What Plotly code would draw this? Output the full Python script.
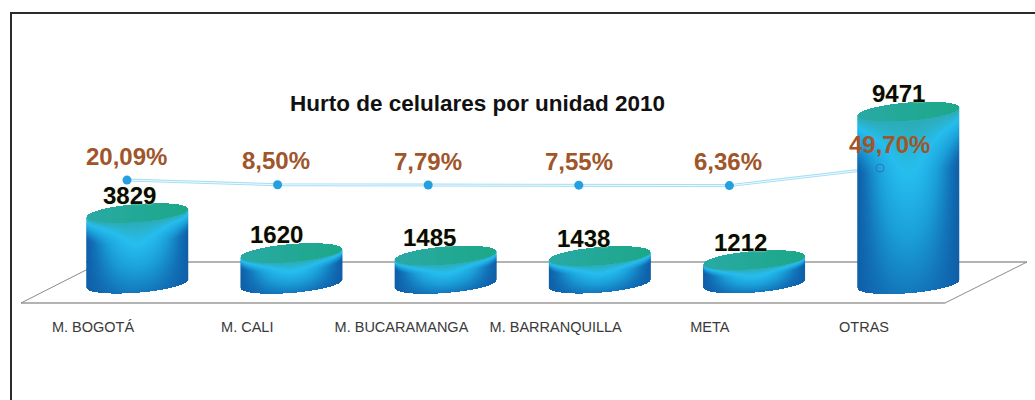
import numpy as np
import plotly.graph_objects as go

categories = ["M. BOGOTÁ", "M. CALI", "M. BUCARAMANGA", "M. BARRANQUILLA", "META", "OTRAS"]
units = [3829, 1620, 1485, 1438, 1212, 9471]
percents = [20.09, 8.50, 7.79, 7.55, 6.36, 49.70]
title_text = "Hurto de celulares por unidad 2010"

# label nudges in pixels
unit_xshift = [-8, -15, -16, -16, -13, -10]
pct_xshift = [-1, -2, 0, 0, -1, 9]

W, H = 1035, 400
# axis calibration: pixel = a + b * value
BAR_X0, BAR_DX = 137.0, 154.2
LINE_X0, LINE_DX = 127.0, 150.6
BAR_Y0, BAR_DY = 282.0, 0.018
PCT_Y0, PCT_DY = 188.2, 0.405
BASE_VALUE = -100

HALF_W = 50.5  # px
CAP_H = 9.0
TILT = 4.0

colorscale = [
    [0.0, "#0d58a2"],
    [0.18, "#1272b8"],
    [0.40, "#1a9ed8"],
    [0.62, "#26bdee"],
    [0.80, "#2da9ad"],
    [1.0, "#1aa884"],
]


def cylinder_shading(index, value):
    # shading is worked out on a half pixel grid, then placed through the axes
    px_x = np.arange(-HALF_W, HALF_W + 0.25, 0.5)
    cy_top = BAR_Y0 - BAR_DY * value
    cy_base = BAR_Y0 - BAR_DY * BASE_VALUE
    px_y = np.arange(cy_top - CAP_H - TILT - 1, cy_base + CAP_H + TILT + 1, 0.5)
    xx, yy = np.meshgrid(px_x, px_y)
    u = xx / HALF_W
    arc = CAP_H * np.sqrt(np.clip(1 - u**2, 0, 1))
    cap_up = cy_top - TILT * u - arc
    cap_low = cy_top - TILT * u + arc
    bottom = cy_base - TILT * u + arc

    t = (yy - cap_low) / np.maximum(bottom - cap_low, 1)
    side = np.clip(1 - u**2, 0, 1) ** 1.2
    vert = np.where(t < 0.32, 1.0, 1.0 - 0.72 * (t - 0.32) / 0.68)
    s = 0.05 + 0.57 * side * vert
    # body turns teal toward the top face
    w = np.clip((0.32 - t) / 0.32, 0, 1) ** 1.2
    s = s * (1 - w) + 0.78 * w
    # top face
    cap_s = 0.84 + 0.14 * (u + 1) / 2
    s = np.where(yy < cap_low, cap_s, s)
    s = np.where((yy < cap_up) | (yy > bottom), np.nan, s)

    x = index + px_x / BAR_DX
    y = (BAR_Y0 - px_y) / BAR_DY
    return x, y, s


def fx(px):
    return px / W


def fy(px):
    return 1 - px / H


fig = go.Figure()

idx = list(range(len(categories)))

# line sits on the lower subplot so that it passes behind the last cylinder
fig.add_trace(go.Scatter(x=idx, y=percents, mode="lines", xaxis="x", yaxis="y",
                         line=dict(color="#a6def5", width=3), hoverinfo="skip"))
fig.add_trace(go.Scatter(x=idx, y=percents, mode="lines", xaxis="x", yaxis="y",
                         line=dict(color="#eef9fd", width=1), hoverinfo="skip"))
fig.add_trace(go.Scatter(x=idx[:-1], y=percents[:-1], mode="markers", xaxis="x", yaxis="y",
                         marker=dict(color="#259fdf", size=9), hoverinfo="skip"))

for i, v in enumerate(units):
    x, y, s = cylinder_shading(i, v)
    fig.add_trace(go.Heatmap(x=x, y=y, z=s, xaxis="x2", yaxis="y2", coloraxis="coloraxis",
                             hoverinfo="skip"))

# the point on OTRAS only shows as a faint ring through the cylinder
fig.add_trace(go.Scatter(x=[(LINE_X0 + LINE_DX * idx[-1] - BAR_X0) / BAR_DX],
                         y=[(BAR_Y0 - (PCT_Y0 - PCT_DY * percents[-1])) / BAR_DY],
                         mode="markers", xaxis="x2", yaxis="y2",
                         marker=dict(color="rgba(0,0,0,0)", size=8,
                                     line=dict(color="rgba(60,90,170,0.7)", width=1)),
                         hoverinfo="skip"))

annotations = []
for i, v in enumerate(units):
    annotations.append(dict(x=i, y=v, xref="x2", yref="y2", text=str(v), showarrow=False,
                            xshift=unit_xshift[i], yshift=18, xanchor="center", yanchor="middle",
                            font=dict(family="Liberation Sans", size=24, color="#0a0a0a",
                                      weight="bold", shadow="0 0 2px #e8eeb0")))
for i, p in enumerate(percents):
    label = f"{p:.2f}".replace(".", ",") + "%"
    annotations.append(dict(x=i, y=p, xref="x", yref="y", text=label, showarrow=False,
                            xshift=pct_xshift[i], yshift=24, xanchor="center", yanchor="middle",
                            font=dict(family="Liberation Sans", size=24, color="#a0552a",
                                      weight="bold")))
annotations.append(dict(x=fx(477), y=fy(103), xref="paper", yref="paper", text=title_text,
                        showarrow=False, xanchor="center", yanchor="middle",
                        font=dict(family="Liberation Sans", size=22.5, color="#111111",
                                  weight="bold")))

grey = dict(color="#9a9a9a", width=1.6)
thin = dict(color="#8a8a8a", width=1)
shapes = [
    dict(type="line", xref="paper", yref="paper", x0=fx(86), y0=fy(262), x1=fx(1027), y1=fy(262),
         line=grey, layer="below"),
    dict(type="line", xref="paper", yref="paper", x0=fx(21), y0=fy(303), x1=fx(945), y1=fy(303),
         line=grey, layer="below"),
    dict(type="line", xref="paper", yref="paper", x0=fx(21), y0=fy(303), x1=fx(90), y1=fy(268),
         line=thin, layer="below"),
    dict(type="line", xref="paper", yref="paper", x0=fx(945), y0=fy(303), x1=fx(1027), y1=fy(262),
         line=thin, layer="below"),
    # picture frame, runs off the bottom and the right
    dict(type="path", xref="paper", yref="paper",
         path=f"M {fx(11)} {fy(410)} L {fx(11)} {fy(13)} L {fx(1045)} {fy(13)}",
         line=dict(color="#2b2b2b", width=2), layer="above"),
]

fig.update_layout(
    width=W,
    height=H,
    margin=dict(l=0, r=0, t=0, b=0),
    paper_bgcolor="white",
    plot_bgcolor="rgba(0,0,0,0)",
    showlegend=False,
    annotations=annotations,
    shapes=shapes,
    coloraxis=dict(colorscale=colorscale, cmin=0, cmax=1, showscale=False),
    xaxis=dict(range=[-LINE_X0 / LINE_DX, (W - LINE_X0) / LINE_DX], visible=False, fixedrange=True),
    yaxis=dict(range=[(PCT_Y0 - H) / PCT_DY, PCT_Y0 / PCT_DY], visible=False, fixedrange=True),
    xaxis2=dict(
        range=[-BAR_X0 / BAR_DX, (W - BAR_X0) / BAR_DX],
        overlaying="x",
        anchor="free",
        position=fy(316),
        side="bottom",
        tickmode="array",
        tickvals=[i - 0.285 for i in idx],
        ticktext=categories,
        ticks="",
        showline=False,
        showgrid=False,
        zeroline=False,
        tickangle=0,
        tickfont=dict(family="Liberation Sans", size=14.5, color="#3a3a3a"),
        fixedrange=True,
    ),
    yaxis2=dict(range=[(BAR_Y0 - H) / BAR_DY, BAR_Y0 / BAR_DY], overlaying="y", visible=False,
                fixedrange=True),
)

# page body has a default margin that would push the figure off by 8px
fig.write_html("out.html", config=dict(displayModeBar=False),
               post_script="document.body.style.margin='0';document.body.style.overflow='hidden';")
